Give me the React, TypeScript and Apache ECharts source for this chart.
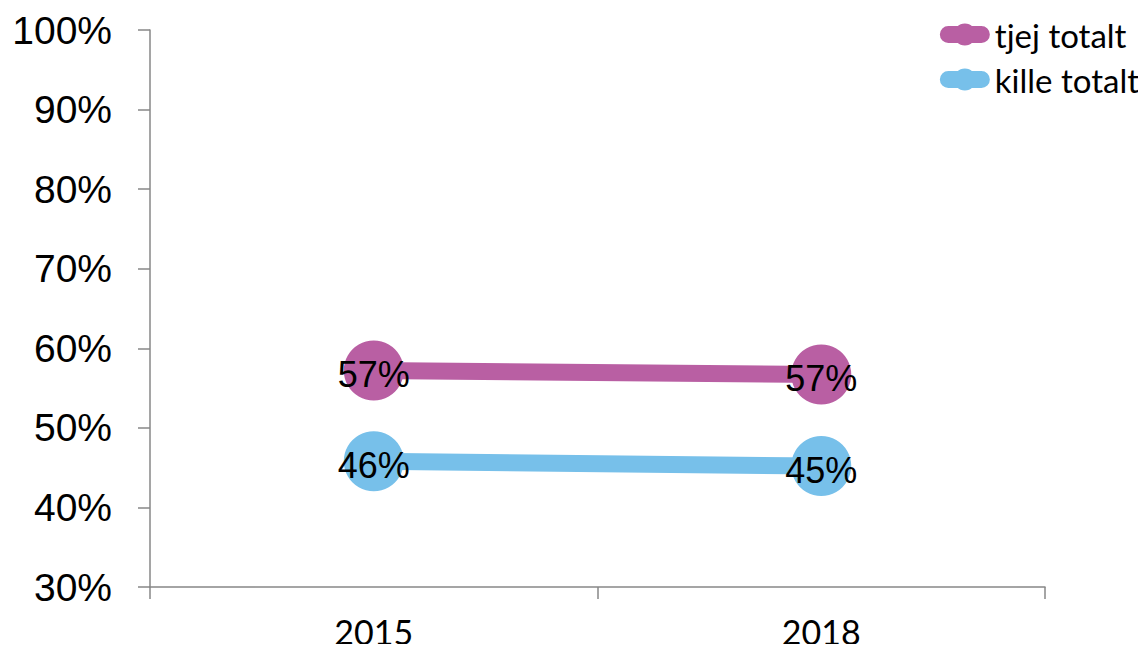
import React, { useEffect, useRef } from "react";
import * as echarts from "echarts";

const categories = ["2015", "2018"];
const tjejTotalt = [57.2, 56.7];
const killeTotalt = [45.8, 45.2];
const seriesNames = ["tjej totalt", "kille totalt"];
const colors = ["#B95FA3", "#77C0EA"];

const legendIcon =
  "path://M8.5,2.5 L41.5,2.5 A8.5,8.5 0 0 1 41.5,19.5 L8.5,19.5 A8.5,8.5 0 0 1 8.5,2.5 Z M25,0 A11,11 0 1 1 25,22 A11,11 0 1 1 25,0 Z";

export default function App() {
  const ref = useRef<HTMLDivElement>(null);
  useEffect(() => {
    if (!ref.current) return;
    const chart = echarts.init(ref.current, null, { renderer: "svg" });
    const mkSeries = (name: string, data: number[], color: string) => ({
      name,
      type: "line",
      data,
      symbol: "circle",
      symbolSize: 60,
      itemStyle: { color },
      lineStyle: { color, width: 17 },
      label: {
        show: true,
        position: "inside",
        formatter: (p: any) => Math.round(p.value) + "%",
        color: "#000",
        fontFamily: "Liberation Sans, Arial, sans-serif",
        fontSize: 36,
        offset: [0, 4],
      },
    });
    chart.setOption({
      animation: false,
      grid: { left: 150, right: 101, top: 30, bottom: 65 },
      legend: {
        orient: "vertical",
        right: 2,
        top: 13,
        itemWidth: 50,
        itemHeight: 22,
        itemGap: 12,
        align: "left",
        icon: legendIcon,
        textStyle: {
          fontFamily: "Lato, sans-serif",
          fontSize: 33,
          color: "#000",
        },
        data: seriesNames,
      },
      xAxis: {
        type: "category",
        data: categories,
        boundaryGap: true,
        axisLine: { lineStyle: { color: "#878787", width: 1.5 } },
        axisTick: { show: true, length: 12, lineStyle: { color: "#878787", width: 1.5 } },
        axisLabel: { fontFamily: "Lato, sans-serif", fontSize: 34, color: "#000", margin: 27 },
      },
      yAxis: {
        type: "value",
        min: 30,
        max: 100,
        interval: 10,
        splitLine: { show: false },
        axisLine: { show: true, lineStyle: { color: "#878787", width: 1.5 } },
        axisTick: { show: true, length: 12, lineStyle: { color: "#878787", width: 1.5 } },
        axisLabel: {
          formatter: "{value}%",
          fontFamily: "Liberation Sans, Arial, sans-serif",
          fontSize: 39,
          color: "#000",
          margin: 38,
        },
      },
      series: [
        mkSeries(seriesNames[0], tjejTotalt, colors[0]),
        mkSeries(seriesNames[1], killeTotalt, colors[1]),
      ],
    });
    return () => chart.dispose();
  }, []);
  return <div ref={ref} style={{ width: 1146, height: 652, margin: -8 }} />;
}
